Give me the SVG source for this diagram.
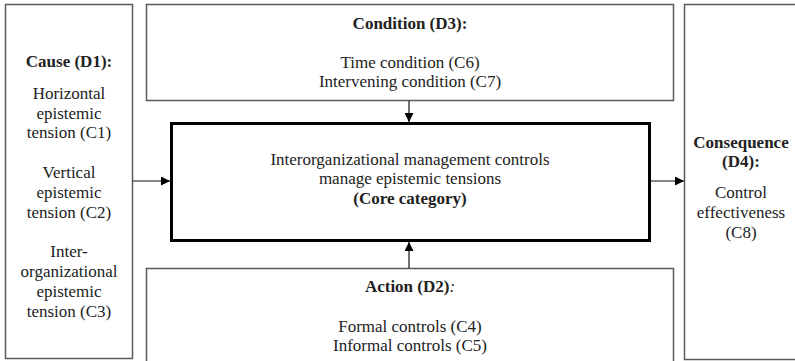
<svg xmlns="http://www.w3.org/2000/svg" width="795" height="361" viewBox="0 0 795 361">
<style>
.box{fill:#fff;stroke:#5a5a5a;stroke-width:1.5}
.core{fill:#fff;stroke:#000;stroke-width:3}
.t{font-family:"Liberation Serif","Times New Roman",serif;font-size:17px;fill:#222;text-anchor:middle}
.b{font-weight:bold}
.conn{stroke:#111;stroke-width:1.2;fill:none;marker-end:url(#ah)}
</style>
<defs>
<marker id="ah" viewBox="0 0 10 10" refX="10" refY="5" markerWidth="9" markerHeight="9" markerUnits="userSpaceOnUse" orient="auto">
<path d="M0,0 L10,5 L0,10 z" fill="#000"/>
</marker>
</defs>
<rect width="795" height="361" fill="#fff"/>
<g id="cause">
<rect class="box" x="5.5" y="4.5" width="127" height="354"/>
<text class="t b" x="69" y="67">Cause (D1):</text>
<text class="t" x="69" y="99">Horizontal</text>
<text class="t" x="69" y="118.5">epistemic</text>
<text class="t" x="69" y="138">tension (C1)</text>
<text class="t" x="69" y="178">Vertical</text>
<text class="t" x="69" y="198">epistemic</text>
<text class="t" x="69" y="218">tension (C2)</text>
<text class="t" x="69" y="257">Inter-</text>
<text class="t" x="69" y="277">organizational</text>
<text class="t" x="69" y="297">epistemic</text>
<text class="t" x="69" y="317">tension (C3)</text>
</g>
<g id="condition">
<rect class="box" x="146.5" y="4.5" width="527" height="96"/>
<text class="t b" x="410" y="29">Condition (D3):</text>
<text class="t" x="410" y="68">Time condition (C6)</text>
<text class="t" x="410" y="87">Intervening condition (C7)</text>
</g>
<g id="core">
<rect class="core" x="171.5" y="123.5" width="478" height="117"/>
<text class="t" x="410" y="165">Interorganizational management controls</text>
<text class="t" x="410" y="184">manage epistemic tensions</text>
<text class="t b" x="410" y="204">(Core category)</text>
</g>
<g id="action">
<rect class="box" x="146.5" y="268.5" width="527" height="96"/>
<text class="t" x="410" y="292"><tspan font-weight="bold">Action (D2)</tspan><tspan font-style="italic">:</tspan></text>
<text class="t" x="410" y="332">Formal controls (C4)</text>
<text class="t" x="410" y="351">Informal controls (C5)</text>
</g>
<g id="consequence">
<rect class="box" x="684.5" y="4.5" width="113" height="355"/>
<text class="t b" x="741" y="148">Consequence</text>
<text class="t b" x="741" y="167">(D4):</text>
<text class="t" x="741" y="198">Control</text>
<text class="t" x="741" y="218">effectiveness</text>
<text class="t" x="741" y="238">(C8)</text>
</g>
<g id="connectors">
<line class="conn" x1="133" y1="181" x2="170" y2="181"/>
<line class="conn" x1="651" y1="181" x2="684" y2="181"/>
<line class="conn" x1="409" y1="101" x2="409" y2="122"/>
<line class="conn" x1="409" y1="268" x2="409" y2="242"/>
</g>
</svg>
